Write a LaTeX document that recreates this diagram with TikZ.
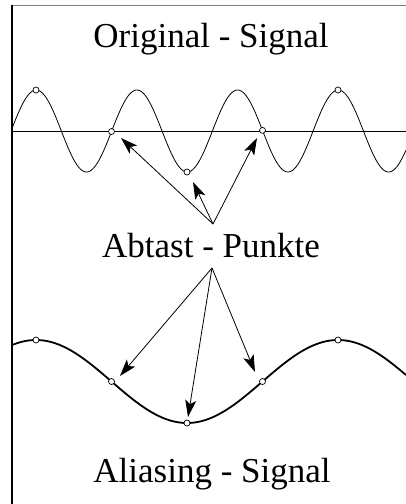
\documentclass[tikz,border=0pt]{standalone}
\usepackage{fontspec}
\setmainfont{Liberation Serif}
\usetikzlibrary{arrows.meta}
\begin{document}
\begin{tikzpicture}[x=1pt,y=-1pt,
  lbl/.style={anchor=base,inner sep=0pt,font=\fontsize{35}{40}\selectfont},
  smp/.style={circle,draw=black,fill=white,line width=0.7pt,inner sep=0pt,minimum size=6pt},
  arr/.style={line width=0.8pt,-{Stealth[length=17pt,width=11pt,inset=4pt]}},
  orig/.style={line width=0.8pt},
  alias/.style={line width=1.8pt}]
\useasboundingbox (0,0) rectangle (406,504);
\fill[white] (0,0) rectangle (406,504);
% frame
\draw[gray,line width=1pt] (11,5) -- (406,5);
\draw[black,line width=2pt] (11.5,4.5) -- (11.5,504);
% texts
\node[lbl] (t1) at (211,47) {Original - Signal};
\node[lbl] (t2) at (211,257) {Abtast - Punkte};
\node[lbl] (t3) at (212,482) {Aliasing - Signal};
% axis
\draw[line width=1pt] (12,131) -- (406,131);
% original signal
\draw[orig] plot[domain=12:406,samples=300,smooth] (\x,{131-41*sin(3.575*(\x-11))});
% alias signal
\draw[alias] plot[domain=12:406,samples=300,smooth] (\x,{381.5-41.5*cos(1.192*(\x-36))});
% sample points
\foreach \i/\xx in {1/36,2/111.5,3/187,4/262.5,5/338}{
  \node[smp] (o\i) at (\xx,{131-41*sin(3.575*(\xx-11))}) {};
  \node[smp] (a\i) at (\xx,{381.5-41.5*cos(1.192*(\xx-36))}) {};
}
% arrows
\coordinate (up) at (213,224);
\coordinate (dn) at (212,268);
\coordinate (u2) at (121,138);
\coordinate (u3) at (193,182);
\coordinate (u4) at (257,138);
\coordinate (d2) at (120,376);
\coordinate (d3) at (188,417);
\coordinate (d4) at (255,372);
\draw[arr] (up) -- (u2);
\draw[arr] (up) -- (u3);
\draw[arr] (up) -- (u4);
\draw[arr] (dn) -- (d2);
\draw[arr] (dn) -- (d3);
\draw[arr] (dn) -- (d4);
\end{tikzpicture}
\end{document}
